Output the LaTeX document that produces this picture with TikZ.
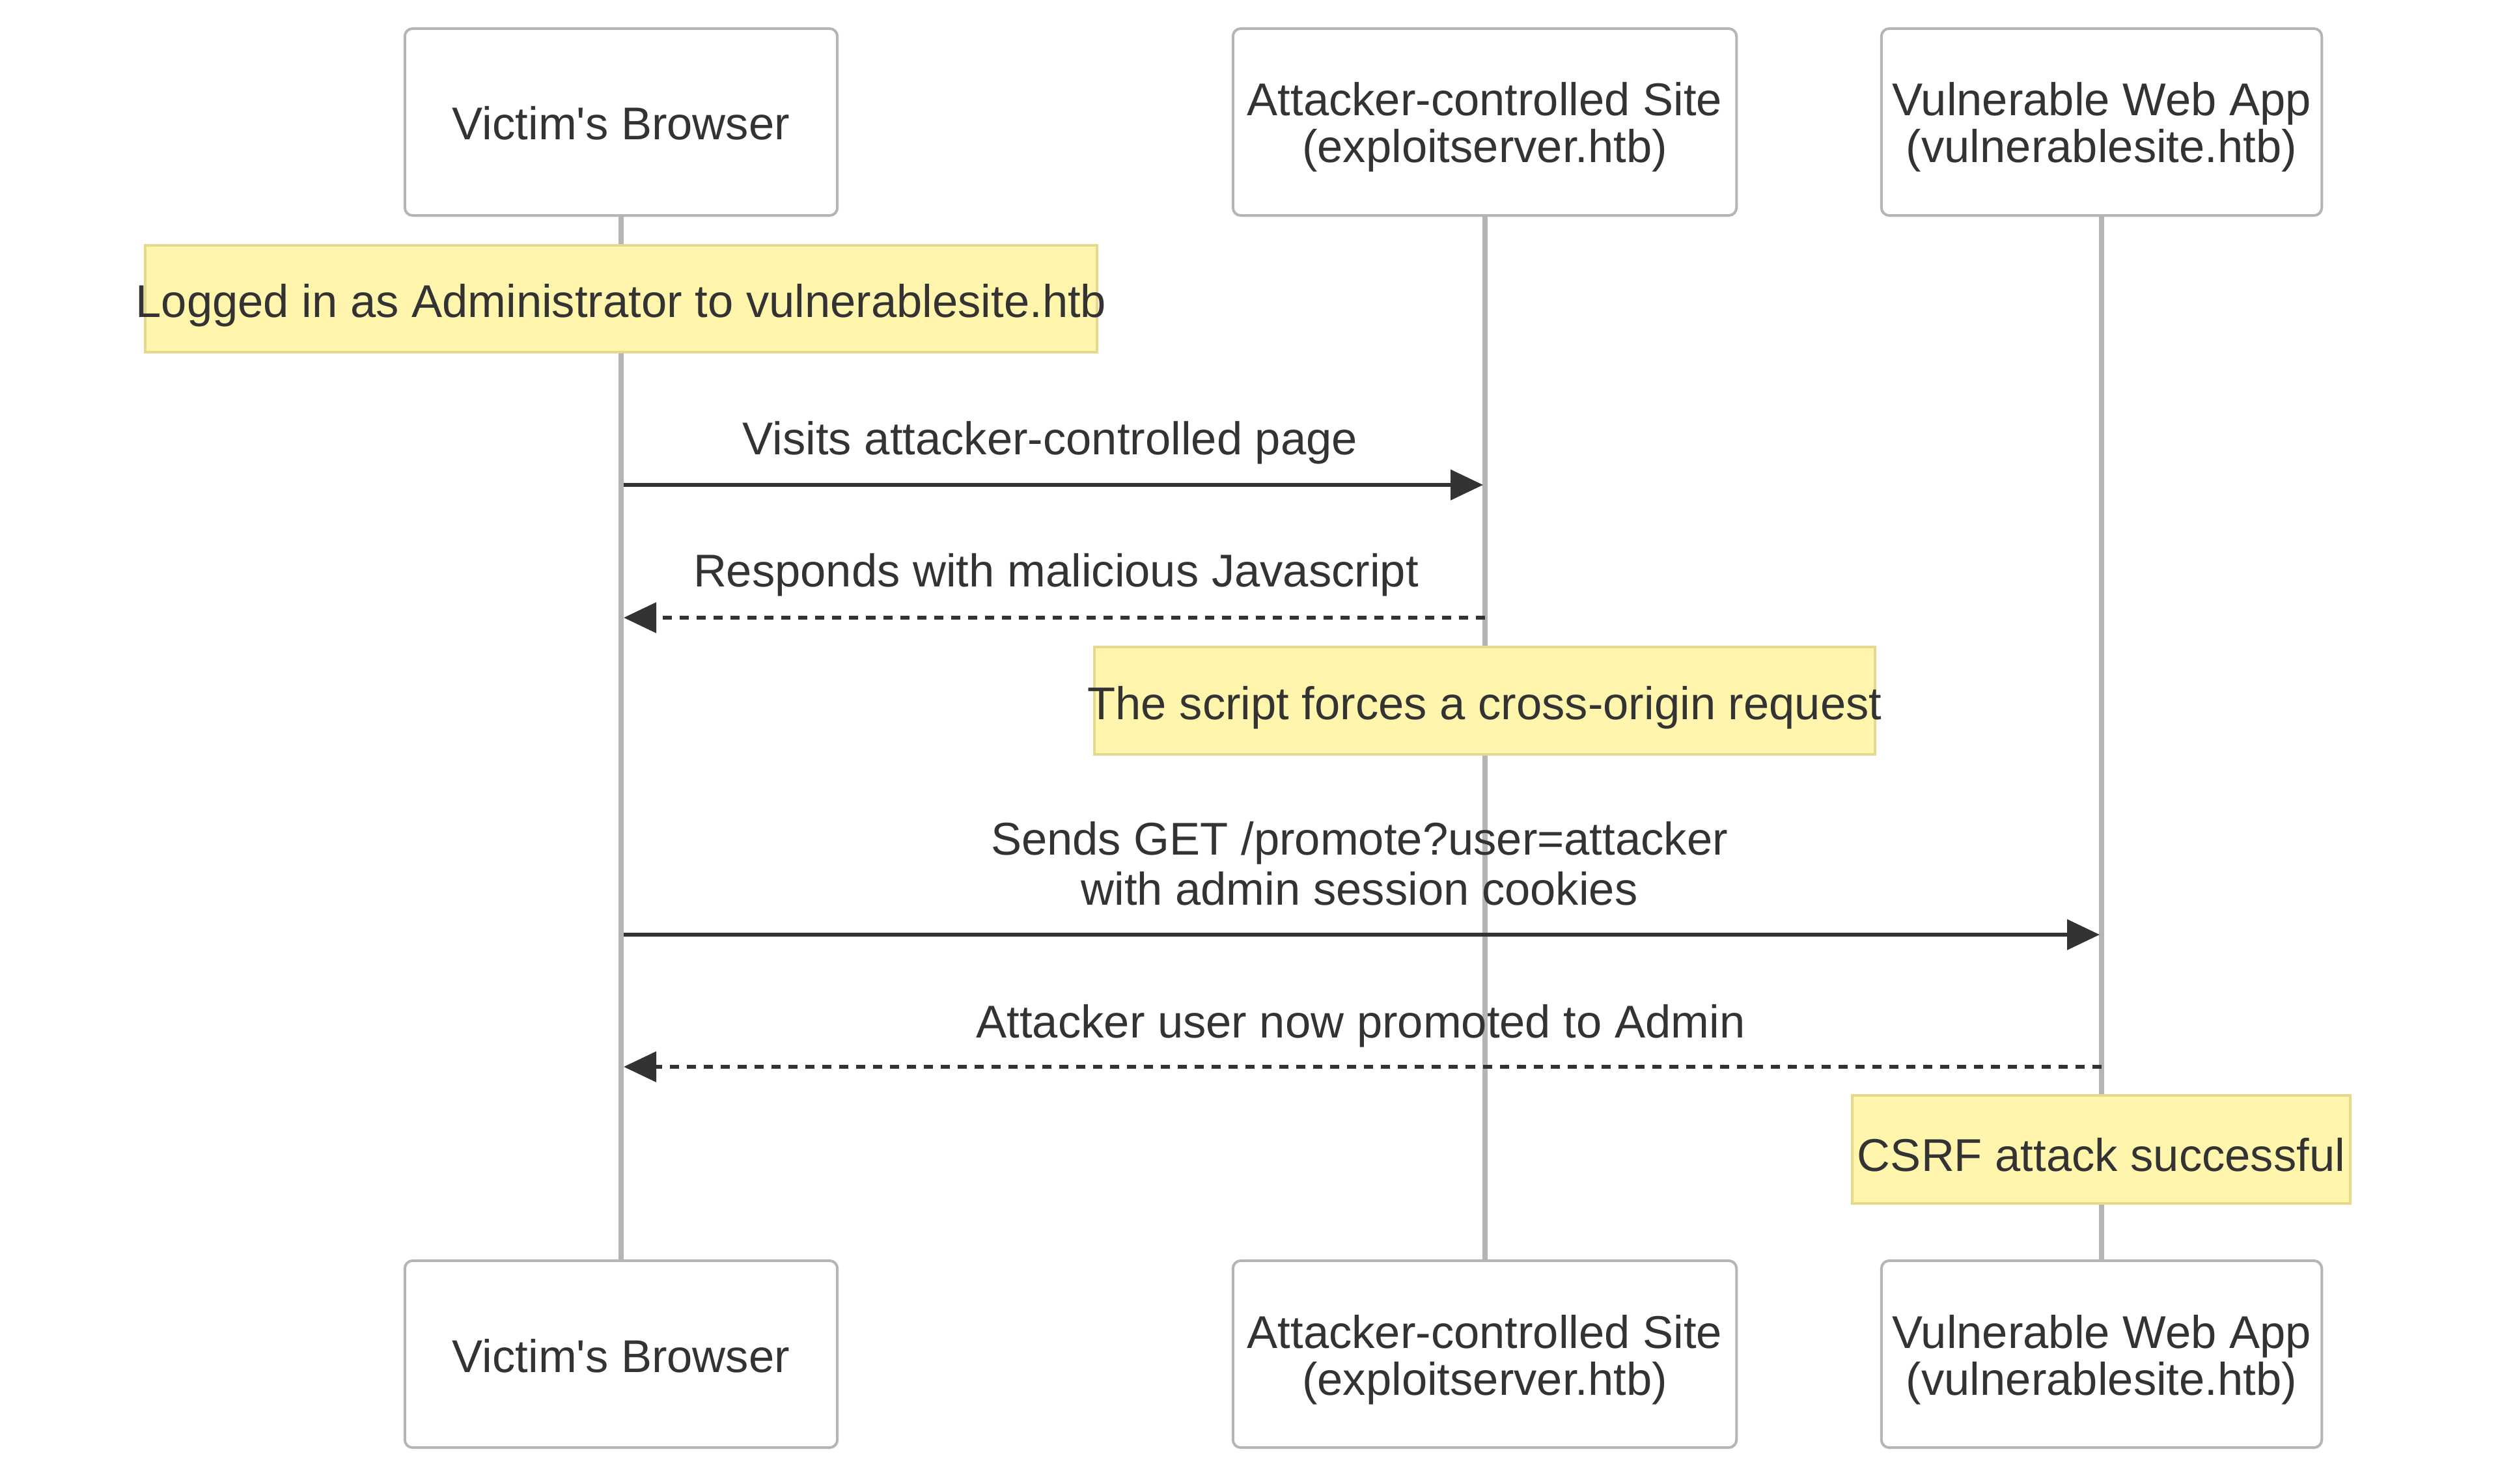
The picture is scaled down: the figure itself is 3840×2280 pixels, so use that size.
\documentclass[tikz,border=0pt]{standalone}
\usepackage{fontspec}
\setmainfont{Liberation Sans}
\usetikzlibrary{arrows.meta}
\definecolor{txt}{HTML}{333333}
\definecolor{actorborder}{HTML}{B5B5B5}
\definecolor{life}{HTML}{B5B5B5}
\definecolor{notefill}{HTML}{FFF5AD}
\definecolor{noteborder}{HTML}{E6D98C}
\begin{document}
\begin{tikzpicture}[x=0.01cm,y=-0.01cm,
  actorbox/.style={draw=actorborder, fill=white, line width=0.04cm, rounded corners=0.12cm, inner sep=0, minimum height=2.87cm},
  lifeline/.style={draw=life, line width=0.08cm},
  notebox/.style={draw=noteborder, fill=notefill, line width=0.04cm, inner sep=0},
  lbl/.style={text=txt, font=\fontsize{20.07pt}{24pt}\selectfont, inner sep=0, anchor=base},
  msg/.style={draw=txt, line width=0.06cm, -{Triangle[length=0.5cm,width=0.46cm]}},
  reply/.style={msg, dash pattern=on 0.14cm off 0.12cm}
]
\fill[white] (0,0) rectangle (3840,2280);
\useasboundingbox (0,0) rectangle (3840,2280);

% actor boxes
\node[actorbox, minimum width=6.64cm] (vbT) at (954,187.5) {};
\node[actorbox, minimum width=7.73cm] (asT) at (2280.5,187.5) {};
\node[actorbox, minimum width=6.76cm] (vwT) at (3228,187.5) {};
\node[actorbox, minimum width=6.64cm] (vbB) at (954,2080.5) {};
\node[actorbox, minimum width=7.73cm] (asB) at (2280.5,2080.5) {};
\node[actorbox, minimum width=6.76cm] (vwB) at (3228,2080.5) {};

% lifelines
\draw[lifeline] (vbT.south) -- (vbB.north);
\draw[lifeline] (asT.south) -- (asB.north);
\draw[lifeline] (vwT.south) -- (vwB.north);

% actor labels
\node[lbl] (vbT1) at (954,215) {Victim\textquotesingle s Browser};
\node[lbl] (asT1) at (2280.5,178) {Attacker-controlled Site};
\node[lbl] (asT2) at (2280.5,250) {(exploitserver.htb)};
\node[lbl] (vwT1) at (3228,178) {Vulnerable Web App};
\node[lbl] (vwT2) at (3228,250) {(vulnerablesite.htb)};
\node[lbl] (vbB1) at (954,2108) {Victim\textquotesingle s Browser};
\node[lbl] (asB1) at (2280.5,2071) {Attacker-controlled Site};
\node[lbl] (asB2) at (2280.5,2143) {(exploitserver.htb)};
\node[lbl] (vwB1) at (3228,2071) {Vulnerable Web App};
\node[lbl] (vwB2) at (3228,2143) {(vulnerablesite.htb)};

% notes
\node[notebox, minimum width=14.62cm, minimum height=1.64cm] (n1) at (954,459) {};
\node[lbl] (n1t) at (954,488) {Logged in as Administrator to vulnerablesite.htb};
\node[notebox, minimum width=11.99cm, minimum height=1.65cm] (n2) at (2280.5,1076.5) {};
\node[lbl] (n2t) at (2280.5,1105) {The script forces a cross-origin request};
\node[notebox, minimum width=7.65cm, minimum height=1.66cm] (n3) at (3227.5,1766) {};
\node[lbl] (n3t) at (3227.5,1799) {CSRF attack successful};

% message end points on lifelines
\coordinate (m1s) at (958,745);
\coordinate (m1e) at (2278,745);
\coordinate (m2s) at (2281,949);
\coordinate (m2e) at (958,949);
\coordinate (m3s) at (958,1436);
\coordinate (m3e) at (3225,1436);
\coordinate (m4s) at (3228,1639);
\coordinate (m4e) at (958,1639);

% messages
\draw[msg] (m1s) -- (m1e);
\node[lbl] (m1t) at (1613,699) {Visits attacker-controlled page};
\draw[reply] (m2s) -- (m2e);
\node[lbl] (m2t) at (1622,902) {Responds with malicious Javascript};
\draw[msg] (m3s) -- (m3e);
\node[lbl] (m3t1) at (2088,1313) {Sends GET /promote?user=attacker};
\node[lbl] (m3t2) at (2088,1390) {with admin session cookies};
\draw[reply] (m4s) -- (m4e);
\node[lbl] (m4t) at (2090,1594) {Attacker user now promoted to Admin};
\end{tikzpicture}
\end{document}
